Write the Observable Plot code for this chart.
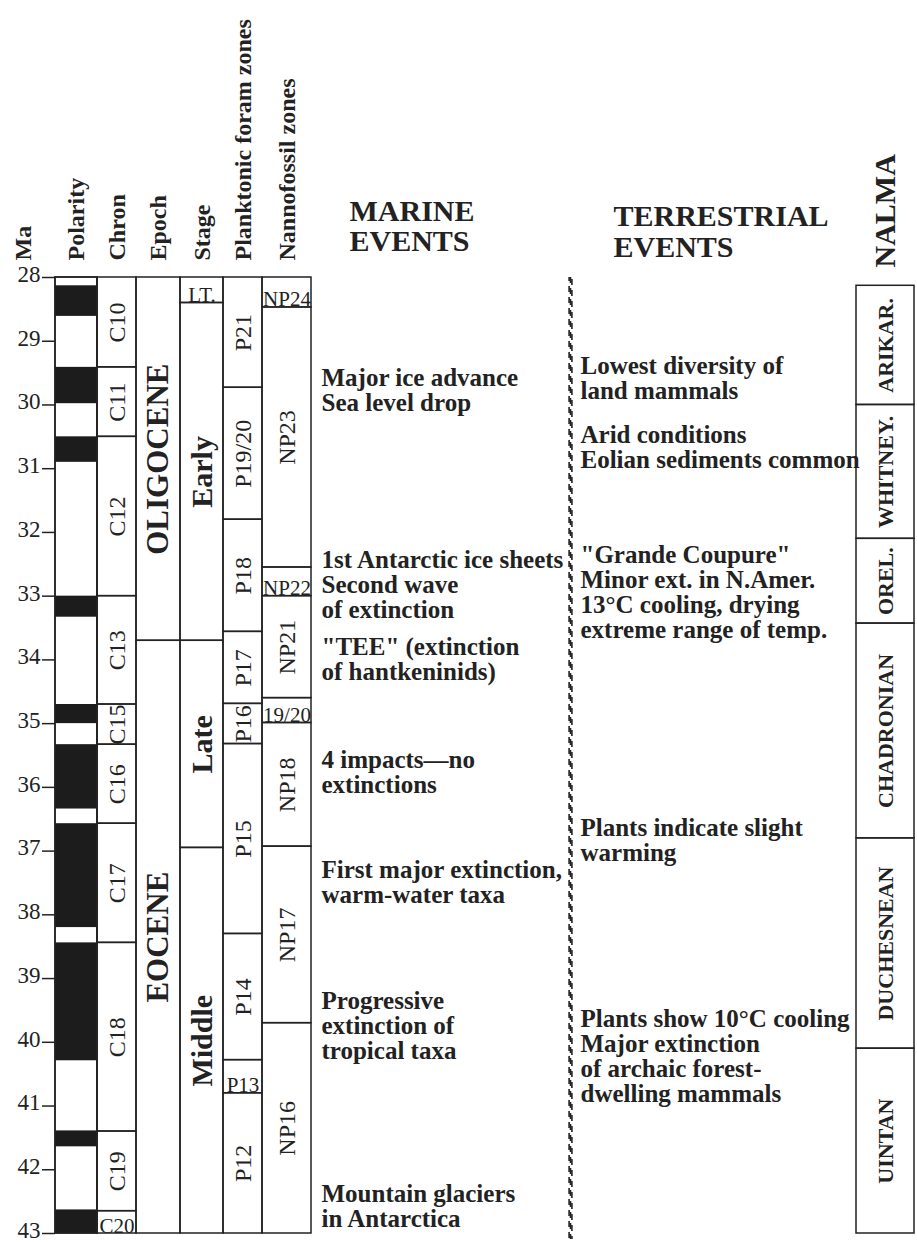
<!DOCTYPE html>
<html><head><meta charset="utf-8">
<script src="https://cdn.jsdelivr.net/npm/d3@7"></script>
<script src="https://cdn.jsdelivr.net/npm/@observablehq/plot@0.6"></script>
<style>html,body{margin:0;padding:0;background:#fff;overflow:hidden}</style>
</head><body><div id="chart"></div>
<script>
// ---------- data (ages in Ma) ----------
const yTicks = [28, 29, 30, 31, 32, 33, 34, 35, 36, 37, 38, 39, 40, 41, 42, 43];

const polarityNormal = [
  {start: 28.13, end: 28.61}, {start: 29.41, end: 29.98}, {start: 30.50, end: 30.90},
  {start: 33.00, end: 33.33}, {start: 34.70, end: 35.00}, {start: 35.33, end: 36.34},
  {start: 36.57, end: 38.20}, {start: 38.44, end: 40.29}, {start: 41.39, end: 41.64},
  {start: 42.63, end: 43.00}
];

const chrons = [
  {name: "C10", start: 28, end: 29.41}, {name: "C11", start: 29.41, end: 30.5},
  {name: "C12", start: 30.5, end: 33.0}, {name: "C13", start: 33.0, end: 34.7},
  {name: "C15", start: 34.7, end: 35.33}, {name: "C16", start: 35.33, end: 36.57},
  {name: "C17", start: 36.57, end: 38.44}, {name: "C18", start: 38.44, end: 41.4},
  {name: "C19", start: 41.4, end: 42.65}, {name: "C20", start: 42.65, end: 43}
];

const epochs = [
  {name: "OLIGOCENE", start: 28, end: 33.7},
  {name: "EOCENE", start: 33.7, end: 43}
];

const stages = [
  {name: "LT.", start: 28, end: 28.4}, {name: "Early", start: 28.4, end: 33.7},
  {name: "Late", start: 33.7, end: 36.95}, {name: "Middle", start: 36.95, end: 43}
];

const forams = [
  {name: "P21", start: 28, end: 29.73}, {name: "P19/20", start: 29.73, end: 31.8},
  {name: "P18", start: 31.8, end: 33.56}, {name: "P17", start: 33.56, end: 34.69},
  {name: "P16", start: 34.69, end: 35.32}, {name: "P15", start: 35.32, end: 38.3},
  {name: "P14", start: 38.3, end: 40.28}, {name: "P13", start: 40.28, end: 40.8},
  {name: "P12", start: 40.8, end: 43}
];

const nannos = [
  {name: "NP24", start: 28, end: 28.47}, {name: "NP23", start: 28.47, end: 32.55},
  {name: "NP22", start: 32.55, end: 33.0}, {name: "NP21", start: 33.0, end: 34.6},
  {name: "19/20", start: 34.6, end: 34.99}, {name: "NP18", start: 34.99, end: 36.93},
  {name: "NP17", start: 36.93, end: 39.7}, {name: "NP16", start: 39.7, end: 43}
];

const nalma = [
  {name: "ARIKAR.", start: 28.13, end: 30.0}, {name: "WHITNEY.", start: 30.0, end: 32.1},
  {name: "OREL.", start: 32.1, end: 33.43}, {name: "CHADRONIAN", start: 33.43, end: 36.8},
  {name: "DUCHESNEAN", start: 36.8, end: 40.1}, {name: "UINTAN", start: 40.1, end: 43}
];

const marineEvents = [
  {age: 29.77, text: "Major ice advance\nSea level drop"},
  {age: 32.82, text: "1st Antarctic ice sheets\nSecond wave\nof extinction"},
  {age: 34.00, text: "\"TEE\" (extinction\nof hantkeninids)"},
  {age: 35.76, text: "4 impacts\u2014no\nextinctions"},
  {age: 37.50, text: "First major extinction,\nwarm-water taxa"},
  {age: 39.74, text: "Progressive\nextinction of\ntropical taxa"},
  {age: 42.58, text: "Mountain glaciers\nin Antarctica"}
];

const terrestrialEvents = [
  {age: 29.58, text: "Lowest diversity of\nland mammals"},
  {age: 30.66, text: "Arid conditions\nEolian sediments common"},
  {age: 32.94, text: "\"Grande Coupure\"\nMinor ext. in N.Amer.\n13\u00B0C cooling, drying\nextreme range of temp."},
  {age: 36.83, text: "Plants indicate slight\nwarming"},
  {age: 40.23, text: "Plants show 10\u00B0C cooling\nMajor extinction\nof archaic forest-\ndwelling mammals"}
];

const columnHeaders = ["Ma", "Polarity", "Chron", "Epoch", "Stage", "Planktonic foram zones", "Nannofossil zones"];

// ---------- layout ----------
const ink = "#222";
const col = {
  ma: [23, 23], polarity: [55, 97], chron: [97, 136], epoch: [136, 180], stage: [180, 223],
  foram: [223, 262], nanno: [262, 311], nalma: [856, 914]
};
const mid = k => (col[k][0] + col[k][1]) / 2;
const marineX = 321, terrX = 580, dashX = 570;
const yTop = d3.min(chrons, d => d.start), yBot = d3.max(chrons, d => d.end);

const zoneCols = [
  {key: "chron", data: chrons, size: 24, weight: "normal"},
  {key: "epoch", data: epochs, size: 31, weight: "bold"},
  {key: "stage", data: stages, size: 30, weight: "bold"},
  {key: "foram", data: forams, size: 24, weight: "normal"},
  {key: "nanno", data: nannos, size: 24, weight: "normal"},
  {key: "nalma", data: nalma, size: 22, weight: "bold"}
];
const short = d => d.end - d.start < 0.6;

const marks = [];
// polarity column
marks.push(Plot.rect([{start: yTop, end: yBot}], {
  x1: () => col.polarity[0], x2: () => col.polarity[1], y1: "start", y2: "end",
  fill: "white", stroke: ink, strokeWidth: 1.5
}));
marks.push(Plot.rect(polarityNormal, {
  x1: () => col.polarity[0], x2: () => col.polarity[1], y1: "start", y2: "end",
  fill: "#1c1c1c"
}));
// zone columns
for (const c of zoneCols) {
  const [x0, x1] = col[c.key];
  marks.push(Plot.rect(c.data, {
    x1: () => x0, x2: () => x1, y1: "start", y2: "end",
    fill: "none", stroke: ink, strokeWidth: 1.5
  }));
  marks.push(Plot.text(c.data, {
    filter: d => !short(d), x: () => (x0 + x1) / 2, y: d => (d.start + d.end) / 2,
    text: "name", rotate: -90, fontSize: c.size, fontWeight: c.weight, fill: ink
  }));
  marks.push(Plot.text(c.data, {
    filter: short, x: () => (x0 + x1) / 2, y: "end", text: "name",
    lineAnchor: "bottom", dy: -1, fontSize: 21, fill: ink
  }));
}
// polarity frame on top
marks.push(Plot.rect([{start: yTop, end: yBot}], {
  x1: () => col.polarity[0], x2: () => col.polarity[1], y1: "start", y2: "end",
  fill: "none", stroke: ink, strokeWidth: 1.5
}));
// axis: ticks, then labels (labels nudged up so the last one stays inside)
marks.push(Plot.axisY({
  ticks: yTicks, tickSize: 13, tickFormat: () => "", label: null, stroke: ink, strokeWidth: 1.5
}));
marks.push(Plot.axisY({
  ticks: yTicks, tickSize: 0, tickPadding: 15, fontSize: 23, dy: -3, tickFormat: d => String(d),
  label: null, fill: ink
}));
// column headers
const hdrKeys = ["ma", "polarity", "chron", "epoch", "stage", "foram", "nanno"];
marks.push(Plot.text(columnHeaders, {
  x: (d, i) => mid(hdrKeys[i]), y: () => yTop, dy: -17, text: d => d,
  rotate: -90, textAnchor: "start", fontSize: 24, fontWeight: "bold", fill: ink
}));
marks.push(Plot.text(["MARINE\nEVENTS"], {
  x: () => 349, y: () => yTop, dy: -27, text: d => d, lineAnchor: "bottom",
  textAnchor: "start", fontSize: 30, fontWeight: "bold", lineHeight: 1, fill: ink
}));
marks.push(Plot.text(["TERRESTRIAL\nEVENTS"], {
  x: () => 613, y: () => yTop, dy: -21, text: d => d, lineAnchor: "bottom",
  textAnchor: "start", fontSize: 30, fontWeight: "bold", lineHeight: 1.03, fill: ink
}));
marks.push(Plot.text(["NALMA"], {
  x: () => mid("nalma"), y: () => yTop, dy: -10, text: d => d, rotate: -90,
  textAnchor: "start", fontSize: 30, fontWeight: "bold", fill: ink
}));
// hatched divider: three offset dashed strokes give slanted dashes
for (const k of [-1, 0, 1]) {
  marks.push(Plot.ruleX([dashX + 1.4 * k], {
    y1: () => yTop, y2: () => yBot, insetBottom: -6, stroke: ink, strokeWidth: 1.6,
    strokeDasharray: "6,5", strokeDashoffset: -2 * k
  }));
}
// events
marks.push(Plot.text(marineEvents, {
  x: () => marineX, y: "age", text: "text", textAnchor: "start", lineAnchor: "middle",
  fontSize: 25, fontWeight: "bold", lineHeight: 1, fill: ink
}));
marks.push(Plot.text(terrestrialEvents, {
  x: () => terrX, y: "age", text: "text", textAnchor: "start", lineAnchor: "middle",
  fontSize: 25, fontWeight: "bold", lineHeight: 1, fill: ink
}));

const chart = Plot.plot({
  width: 917, height: 1242,
  marginLeft: 55, marginRight: 0, marginTop: 277, marginBottom: 9,
  x: {domain: [55, 917], axis: null},
  y: {domain: [yTop, yBot], reverse: true, axis: null},
  style: {fontFamily: "'Liberation Serif', 'DejaVu Serif', serif", background: "white", color: ink, overflow: "visible"},
  marks
});
document.getElementById("chart").appendChild(chart);
</script>
</body></html>
